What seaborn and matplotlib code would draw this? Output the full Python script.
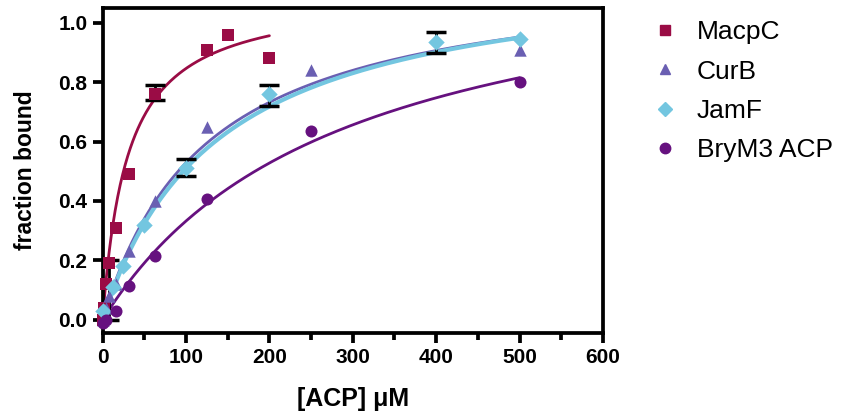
import numpy as np
import pandas as pd
import matplotlib
matplotlib.use("Agg")
import matplotlib.pyplot as plt
import seaborn as sns
from matplotlib.lines import Line2D

# data
macpc_x = [0, 2, 3.9, 7.8, 15.6, 31.25, 62.5, 125, 150, 200]
macpc_y = [0.0, 0.04, 0.12, 0.19, 0.31, 0.49, 0.76, 0.91, 0.96, 0.88]
curb_x = [0, 3.9, 7.8, 15.6, 31.25, 62.5, 125, 250, 500]
curb_y = [0.0, 0.04, 0.08, 0.12, 0.23, 0.40, 0.65, 0.84, 0.91]
jamf_x = [0, 12.5, 25, 50, 100, 200, 400, 500]
jamf_y = [0.03, 0.11, 0.18, 0.32, 0.51, 0.76, 0.935, 0.945]
brym3_x = [0, 3.9, 15.6, 31.25, 62.5, 125, 250, 500]
brym3_y = [-0.01, 0.0, 0.03, 0.115, 0.215, 0.405, 0.635, 0.80]

# error bars (points with visible caps)
err_x = [7.8, 62.5, 100, 200, 400]
err_y = [0.19, 0.765, 0.51, 0.755, 0.935]
err_lo = [0.0, 0.74, 0.485, 0.72, 0.90]
err_hi = [0.20, 0.79, 0.54, 0.79, 0.97]

# one-site binding fits: Bmax, Kd, x range end
fit_bmax = {"MacpC": 1.10, "CurB": 1.19, "JamF": 1.21, "BryM3 ACP": 1.28}
fit_kd = {"MacpC": 30, "CurB": 125, "JamF": 137, "BryM3 ACP": 285}
fit_end = {"MacpC": 200, "CurB": 500, "JamF": 500, "BryM3 ACP": 500}

names = ["MacpC", "CurB", "JamF", "BryM3 ACP"]
colors = {"MacpC": "#9a0c45", "CurB": "#6a5fb2", "JamF": "#73c6e0", "BryM3 ACP": "#66117f"}
markers = {"MacpC": "s", "CurB": "^", "JamF": "D", "BryM3 ACP": "o"}
msizes = {"MacpC": 80, "CurB": 80, "JamF": 70, "BryM3 ACP": 75}
lwidths = {"MacpC": 2.0, "CurB": 2.0, "JamF": 3.0, "BryM3 ACP": 2.0}

df = pd.concat([
    pd.DataFrame({"conc": macpc_x, "bound": macpc_y, "acp": "MacpC"}),
    pd.DataFrame({"conc": curb_x, "bound": curb_y, "acp": "CurB"}),
    pd.DataFrame({"conc": jamf_x, "bound": jamf_y, "acp": "JamF"}),
    pd.DataFrame({"conc": brym3_x, "bound": brym3_y, "acp": "BryM3 ACP"}),
])

sns.set_style("ticks", {"axes.edgecolor": "black", "xtick.color": "black",
                        "ytick.color": "black", "text.color": "black",
                        "axes.labelcolor": "black"})
plt.rcParams["font.family"] = ["Liberation Sans", "DejaVu Sans"]

fig = plt.figure(figsize=(8.41, 4.19), dpi=100)
ax = fig.add_axes([0.122, 0.205, 0.595, 0.776])

# fitted curves
for name in names:
    xs = np.linspace(0, fit_end[name], 200)
    ys = fit_bmax[name] * xs / (fit_kd[name] + xs)
    sns.lineplot(x=xs, y=ys, ax=ax, color=colors[name], lw=lwidths[name], zorder=2)

ax.errorbar(err_x, err_y,
            yerr=[np.array(err_y) - np.array(err_lo), np.array(err_hi) - np.array(err_y)],
            fmt="none", ecolor="black", elinewidth=2, capsize=7, capthick=2.5, zorder=3)

for name in names:
    sub = df[df["acp"] == name]
    sns.scatterplot(data=sub, x="conc", y="bound", ax=ax, color=colors[name],
                    marker=markers[name], s=msizes[name], edgecolor=colors[name],
                    linewidth=0, zorder=4, clip_on=False, legend=False)

ax.set_xlim(0, 600)
ax.set_ylim(-0.045, 1.05)
ax.set_xticks(np.arange(0, 601, 100))
ax.set_xticks(np.arange(50, 600, 100), minor=True)
ax.set_yticks(np.arange(0, 1.01, 0.2))
ax.set_yticklabels([f"{v:.1f}" for v in np.arange(0, 1.01, 0.2)])
for s in ax.spines.values():
    s.set_linewidth(2.7)
    s.set_color("black")
ax.tick_params(which="major", length=7, width=2.7, labelsize=15, colors="black", pad=4)
ax.tick_params(which="minor", length=5, width=2.7, colors="black")
for lab in ax.get_xticklabels() + ax.get_yticklabels():
    lab.set_fontweight("bold")

ax.set_ylabel("fraction bound", fontsize=16.5, fontweight="bold", labelpad=15)
ax.set_xlabel("[ACP] \u03bcM", fontsize=18, fontweight="bold", labelpad=14)

handles = [Line2D([], [], ls="", marker=markers[n], color=colors[n], markersize=7.5)
           for n in names]
ax.legend(handles, names, loc="upper left", bbox_to_anchor=(1.045, 1.035),
          frameon=False, fontsize=19, handletextpad=0.6, labelspacing=0.58,
          handlelength=1.2)

fig.savefig("out.png", dpi=100)
